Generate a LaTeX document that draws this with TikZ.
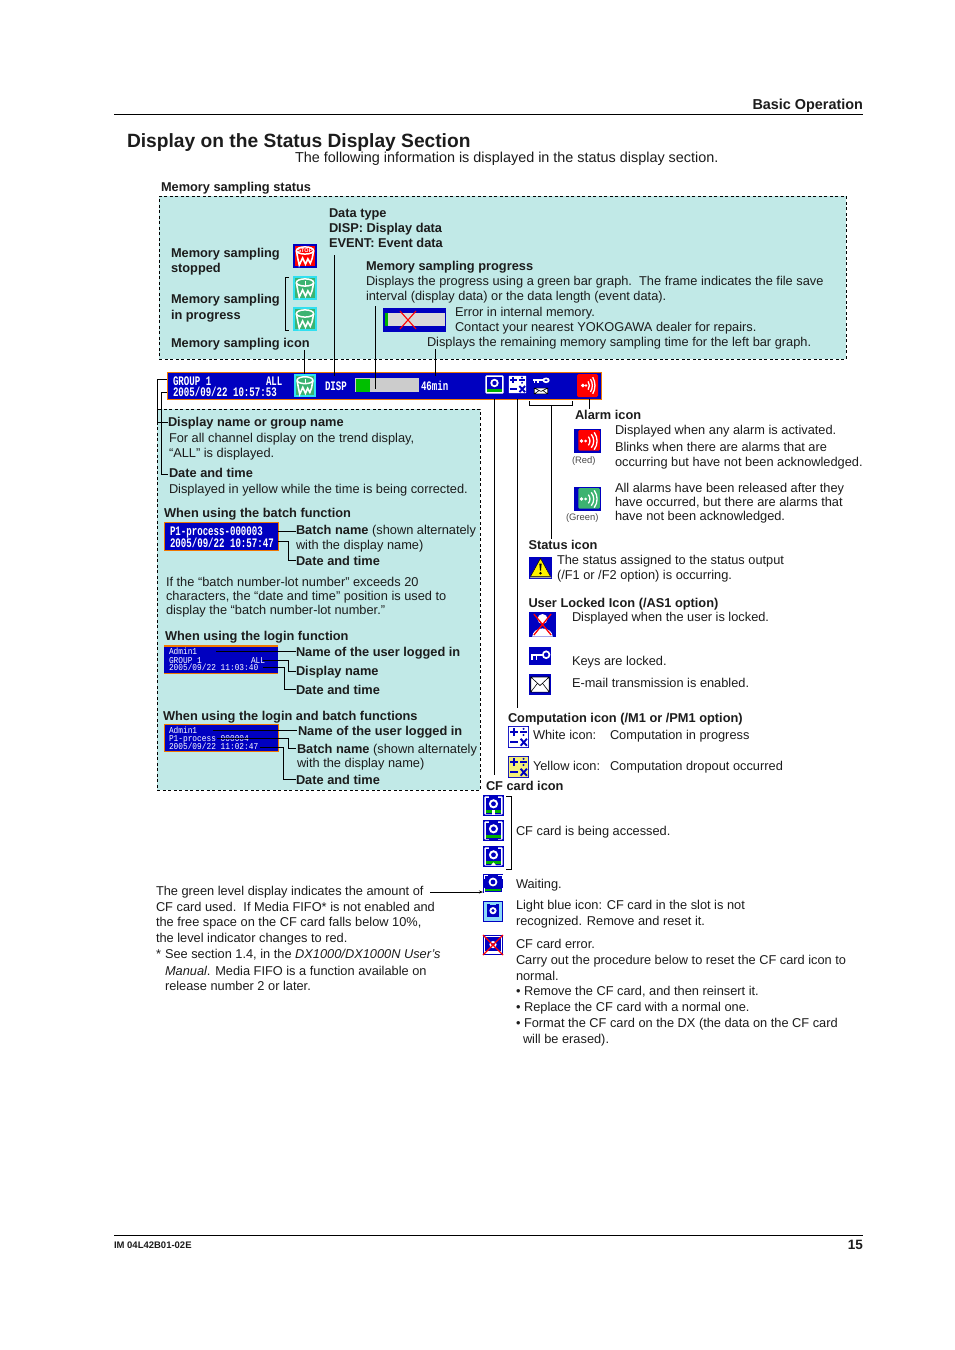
\documentclass[tikz,border=0pt]{standalone}
\usepackage{fontspec}
\setmainfont{Liberation Sans}
\setmonofont{Liberation Mono}
\usetikzlibrary{arrows.meta}
\definecolor{panel}{HTML}{C1E9E7}
\definecolor{lcd}{HTML}{0000C0}
\definecolor{edgeo}{HTML}{F07800}
\definecolor{ink}{HTML}{1C1C1C}
\definecolor{gicon}{HTML}{3CB371}
\definecolor{cyanedge}{HTML}{30E0F0}
\definecolor{yel}{HTML}{F5F078}
\tikzset{
  txt/.style={anchor=base west,inner sep=0pt,outer sep=0pt,text=ink,font=\fontsize{12.8}{15}\selectfont},
  bld/.style={txt,font=\fontsize{12.8}{15}\selectfont\bfseries},
  small/.style={txt,font=\fontsize{9.4}{11}\selectfont,text=ink!80},
  lcdtext/.style={anchor=base west,inner sep=0pt,outer sep=0pt,text=white,font=\fontsize{13}{14}\ttfamily\bfseries\selectfont,xscale=.7,transform shape},
  lcdsmall/.style={anchor=base west,inner sep=0pt,outer sep=0pt,text=white,font=\fontsize{9}{10}\ttfamily\selectfont,xscale=.87,transform shape},
  leader/.style={draw=black,line width=.8pt},
  ibox/.style={anchor=north west,inner sep=0pt,outer sep=0pt,draw=none,fill=lcd},
  panelbox/.style={draw=black,dashed,dash pattern=on 3pt off 2.5pt,line width=.8pt,fill=panel,inner sep=0pt},
  lcdbox/.style={fill=lcd,draw=edgeo,line width=1.4pt}
}
\newcommand\tx[5][txt]{\node[#1] (#2) at (#3,#4) {#5};}
\newcommand\pnt[3]{\coordinate (#1) at (#2,#3);}
\newcommand\ico[6]{\node[ibox,minimum width=#4pt,minimum height=#5pt] (#1) at (#2,#3) {};
  \begin{scope}[shift={(#2,#3)},x=#4pt,y=-#5pt]#6\end{scope}}
\newcommand\dalarmin{
  \fill[white] (.28,.5) circle (1.9pt); \fill[white] (.43,.5) circle (1.4pt);
  \draw[white,line width=1.3pt] (.53,.32) .. controls (.61,.42) and (.61,.58) .. (.53,.68);
  \draw[white,line width=1.3pt] (.64,.22) .. controls (.76,.38) and (.76,.62) .. (.64,.78);
  \draw[white,line width=1.3pt] (.75,.14) .. controls (.89,.36) and (.89,.64) .. (.75,.86);}
\newcommand\dalarm[1]{\fill[#1,rounded corners=1.2pt] (.16,.05) rectangle (.96,.9);
  \begin{scope}[shift={(.12,-.02)},x=.86*1pt*24]\end{scope}\dalarmin}
\newcommand\dcalc[1]{\fill[#1,rounded corners=.6pt] (.04,.04) rectangle (.96,.96);
  \draw[lcd,line width=1.9pt] (.1,.27) -- (.47,.27) (.285,.1) -- (.285,.44);
  \draw[lcd,line width=1.5pt] (.58,.27) -- (.9,.27);
  \fill[lcd] (.74,.13) circle (1.1pt) (.74,.41) circle (1.1pt);
  \draw[lcd,line width=1.9pt] (.1,.74) -- (.47,.74);
  \draw[lcd,line width=1.9pt] (.6,.58) -- (.9,.9) (.9,.58) -- (.6,.9);}
\newcommand\dkey{\draw[white,line width=1.7pt] (.78,.43) circle (.15 and .19);
  \draw[white,line width=2pt] (.08,.43) -- (.62,.43);
  \draw[white,line width=1.5pt] (.14,.43) -- (.14,.74) (.33,.43) -- (.33,.74);}
\newcommand\dmail{\fill[white] (.08,.14) rectangle (.92,.86);
  \draw[black,line width=.6pt] (.08,.14) rectangle (.92,.86) (.08,.14) -- (.5,.55) -- (.92,.14) (.08,.86) -- (.38,.45) (.92,.86) -- (.62,.45);}
\newcommand\dcf[1]{\fill[white,rounded corners=.6pt] (.07,.07) rectangle (.93,.93);
  \fill[lcd] (.28,.0) rectangle (.72,.13);
  \fill[#1] (.14,.72) rectangle (.86,.84);
  \fill[lcd] (.14,.14) rectangle (.86,.72);
  \fill[lcd] (.14,.84) rectangle (.86,.9);
  \fill[white] (.5,.42) circle (4.6pt); \fill[lcd] (.5,.42) circle (2.4pt);}
\newcommand\dcfa[1]{\draw[white,line width=.9pt] (.05,.25) -- (.05,.05) -- (.25,.05) (.75,.05) -- (.95,.05) -- (.95,.25) (.05,.72) -- (.05,.95) -- (.95,.95) -- (.95,.72);
  \fill[#1] (.1,.78) rectangle (.9,.88);
  \fill[white] (.5,.42) circle (4.4pt); \fill[lcd] (.5,.42) circle (2.4pt);}
\newcommand\ddrum[3]{\fill[#1] (0,0) rectangle (1,1);
  \fill[#2] (.07,.07) rectangle (.93,.93);
  \draw[white,line width=1.5pt] (.5,.27) ellipse (.36 and .15);
  \draw[white,line width=1.6pt] (.14,.28) -- (.2,.6) -- (.26,.88) -- (.4,.58) -- (.52,.84) -- (.62,.62) -- (.72,.8) -- (.8,.6) -- (.86,.28);
  #3}
\begin{document}
\begin{tikzpicture}[x=1pt,y=-1pt]
\useasboundingbox (0,0) rectangle (954,1350);
\fill[white] (0,0) rectangle (954,1350);
% header
\node[bld,anchor=base east,font=\fontsize{14.4}{16}\selectfont\bfseries] (hdr) at (863,109) {Basic Operation};
\pnt{hl}{114}{114.5}\pnt{hr}{863}{114.5}
\draw[line width=.7pt] (hl) -- (hr);
\tx[bld,font=\fontsize{19.2}{22}\selectfont\bfseries]{title}{127}{147}{Display on the Status Display Section}
\tx[txt,font=\fontsize{14.4}{16}\selectfont]{intro}{295}{162}{The following information is displayed in the status display section.}
% top panel
\tx[bld]{mss}{161}{191}{Memory sampling status}
\node[panelbox,anchor=north west,minimum width=687pt,minimum height=163pt] (toppanel) at (159,196) {};
\tx[bld]{dt1}{329}{217}{Data type}
\tx[bld]{dt2}{329}{232}{DISP: Display data}
\tx[bld]{dt3}{329}{247}{EVENT: Event data}
\tx[bld]{ms1}{171}{257}{Memory sampling}
\tx[bld]{ms2}{171}{272}{stopped}
\tx[bld]{ms3}{171}{303}{Memory sampling}
\tx[bld]{ms4}{171}{319}{in progress}
\tx[bld]{ms5}{171}{347}{Memory sampling icon}
\tx[bld]{mp1}{366}{270}{Memory sampling progress}
\tx{mp2}{366}{285}{Displays the progress using a green bar graph.\ \ The frame indicates the file save}
\tx{mp3}{366}{300}{interval (display data) or the data length (event data).}
\tx{mp4}{455}{316}{Error in internal memory.}
\tx{mp5}{455}{331}{Contact your nearest YOKOGAWA dealer for repairs.}
\tx{mp6}{427}{346}{Displays the remaining memory sampling time for the left bar graph.}
\ico{icstop}{293}{244}{24}{24}{\ddrum{lcd}{red}{\node[inner sep=0pt,text=white,font=\fontsize{5.5}{5}\bfseries\selectfont] (stoptext) at (.5,.28) {STOP};}}
\ico{icrun1}{293}{276}{24}{24}{\ddrum{cyanedge}{gicon}{\draw[white,line width=.9pt] (.5,.45) -- (.5,.2);}}
\ico{icrun2}{293}{307}{24}{24}{\ddrum{cyanedge}{gicon}{}}
\pnt{br1}{289}{277}\pnt{br2}{285}{277}\pnt{br3}{285}{330}\pnt{br4}{289}{330}
\draw[leader] (br1) -- (br2) -- (br3) -- (br4);
% error bar
\node[ibox,minimum width=63pt,minimum height=24pt] (errbar) at (383,308) {};
\fill[black!15] (385,313) rectangle (445,326);
\fill[green!70!black] (385,313) rectangle (387.5,326);
\pnt{xa}{400}{311}\pnt{xb}{416}{329}\pnt{xc}{416}{311}\pnt{xd}{400}{329}
\draw[red,line width=1.1pt] (xa) -- (xb) (xc) -- (xd);
% status bar
\node[lcdbox,anchor=north west,minimum width=434pt,minimum height=27pt,inner sep=0pt] (bar) at (167,372) {};
\node[lcdtext] (b1) at (173,385) {GROUP 1};
\node[lcdtext] (b2) at (266,385) {ALL};
\node[lcdtext] (b3) at (173,396.5) {2005/09/22 10:57:53};
\ico{bmem}{294}{374}{22}{23}{\ddrum{cyanedge}{gicon}{\draw[white,line width=.9pt] (.5,.45) -- (.5,.2);}}
\node[lcdtext] (b4) at (325,390.5) {DISP};
\node[inner sep=0pt,anchor=north west,fill=black!20,minimum width=64pt,minimum height=14pt] (bbar) at (355,378) {};
\fill[green!75!black] (355.5,379) rectangle (370,391.5);
\node[lcdtext] (b5) at (421,390.5) {46min};
\ico{bcf}{485}{375}{19}{19}{\fill[white,rounded corners=1pt] (.02,.02) rectangle (.98,.98); \fill[green!70!black] (.1,.72) rectangle (.9,.9); \fill[lcd] (.12,.12) rectangle (.88,.72); \fill[white] (.5,.42) circle (4.2pt); \fill[lcd] (.5,.42) circle (2.2pt);}
\ico{bcalc}{508}{375}{19}{19}{\dcalc{white}}
\ico{bkey}{532}{376}{18}{10}{\dkey}
\ico{bmail}{533}{387}{16}{8}{\dmail}
\ico{balarm}{577}{374}{21}{23}{\fill[red,rounded corners=1.5pt] (0,0) rectangle (1,1);\dalarmin}
% leaders from the bar upward
\pnt{u1}{304.5}{350}\draw[leader] (u1) -- (bmem.north -| u1);
\pnt{u2}{334.5}{255}\pnt{u2b}{334.5}{376}\draw[leader] (u2) -- (u2b);
\pnt{u3}{375.5}{306}\pnt{u3b}{375.5}{389}\draw[leader] (u3) -- (u3b);
\pnt{u4}{435.5}{349}\pnt{u4b}{435.5}{376}\draw[leader] (u4) -- (u4b);
% lower left panel
\node[panelbox,anchor=north west,minimum width=323pt,minimum height=381pt] (lowpanel) at (157,409) {};
\tx[bld]{d1}{168}{426}{Display name or group name}
\tx{d2}{169}{442}{For all channel display on the trend display,}
\tx{d3}{169}{457}{“ALL” is displayed.}
\tx[bld]{d4}{169}{477}{Date and time}
\tx{d5}{169}{493}{Displayed in yellow while the time is being corrected.}
\pnt{l1}{167}{379}\pnt{l2}{157.5}{379}\pnt{l3}{157.5}{422}\pnt{l4}{168}{422}
\pnt{m1}{167}{392}\pnt{m2}{161}{392}\pnt{m3}{161}{474}\pnt{m4}{168}{474}
\draw[leader] (l1) -- (l2) -- (l3) -- (l4);
\draw[leader] (m1) -- (m2) -- (m3) -- (m4);
% batch
\tx[bld]{e0}{164}{517}{When using the batch function}
\node[lcdbox,anchor=north west,minimum width=114pt,minimum height=28pt,inner sep=0pt] (bb) at (164,522) {};
\node[lcdtext] (e1) at (170,535) {P1-process-000003};
\node[lcdtext] (e2) at (170,547) {2005/09/22 10:57:47};
\tx{e3}{296}{534}{\textbf{Batch name} (shown alternately}
\tx{e4}{296}{549}{with the display name)}
\tx[bld]{e5}{296}{565}{Date and time}
\pnt{e6}{278}{531}\pnt{e7}{296}{531}\draw[leader] (e6) -- (e7);
\pnt{e8}{278}{541}\pnt{e9}{288.5}{541}\pnt{e10}{288.5}{560}\pnt{e11}{296}{560}\draw[leader] (e8) -- (e9) -- (e10) -- (e11);
\tx{f1}{166}{586}{If the “batch number-lot number” exceeds 20}
\tx{f2}{166}{600}{characters, the “date and time” position is used to}
\tx{f3}{166}{614}{display the “batch number-lot number.”}
% login
\tx[bld]{g0}{165}{640}{When using the login function}
\fill[lcd] (164,645) rectangle (278,673);
\node[draw=none,minimum width=114pt,minimum height=28pt,inner sep=0pt,anchor=north west] (gb) at (164,645) {};
\fill[edgeo] (164,644.5) rectangle (278,646.5);
\fill[edgeo] (164,672.5) rectangle (278,673.5);
\node[lcdsmall] (g1) at (169,654) {Admin1};
\node[lcdsmall] (g2) at (169,663) {GROUP 1};
\node[lcdsmall] (g3) at (251,663) {ALL};
\node[lcdsmall] (g4) at (169,670.5) {2005/09/22 11:03:40};
\tx[bld]{g5}{296}{656}{Name of the user logged in}
\tx[bld]{g6}{296}{675}{Display name}
\tx[bld]{g7}{296}{694}{Date and time}
\pnt{g8}{216}{651}\pnt{g9}{296}{651}\draw[leader] (g8) -- (g9);
\pnt{g10}{263}{660}\pnt{g11}{288.5}{660}\pnt{g12}{288.5}{671}\pnt{g13}{296}{671}\draw[leader] (g10) -- (g11) -- (g12) -- (g13);
\pnt{g14}{263}{667}\pnt{g15}{284.5}{667}\pnt{g16}{284.5}{689}\pnt{g17}{296}{689}\draw[leader] (g14) -- (g15) -- (g16) -- (g17);
% login and batch
\tx[bld]{h0}{163}{720}{When using the login and batch functions}
\node[lcdbox,anchor=north west,minimum width=114pt,minimum height=27pt,inner sep=0pt] (hb) at (164,724) {};
\node[lcdsmall] (h1) at (169,733) {Admin1};
\node[lcdsmall] (h2) at (169,741.5) {P1-process-000004};
\node[lcdsmall] (h3) at (169,749) {2005/09/22 11:02:47};
\tx[bld]{h4}{298}{735}{Name of the user logged in}
\tx{h5}{297}{753}{\textbf{Batch name} (shown alternately}
\tx{h6}{297}{767}{with the display name)}
\tx[bld]{h7}{296}{784}{Date and time}
\pnt{h8}{213}{730}\pnt{h9}{297}{730}\draw[leader] (h8) -- (h9);
\pnt{h10}{217}{738}\pnt{h11}{288.5}{738}\pnt{h12}{288.5}{748}\pnt{h13}{296}{748}\draw[leader] (h10) -- (h11) -- (h12) -- (h13);
\pnt{h14}{260}{747}\pnt{h15}{283.5}{747}\pnt{h16}{283.5}{779}\pnt{h17}{296}{779}\draw[leader] (h14) -- (h15) -- (h16) -- (h17);
% right leaders
\pnt{r1}{494.5}{399}\pnt{r2}{494.5}{775}\draw[leader] (r1) -- (r2);
\pnt{r3}{517.5}{399}\pnt{r4}{517.5}{708}\draw[leader] (r3) -- (r4);
\pnt{r5}{529.5}{401}\pnt{r6}{529.5}{405}\pnt{r7}{572}{405}\pnt{r8}{572}{401}\draw[leader] (r5) -- (r6) -- (r7) -- (r8);
\pnt{r9}{551.5}{405}\pnt{r10}{551.5}{539}\draw[leader] (r9) -- (r10);
\pnt{r11}{589.5}{399}\pnt{r12}{589.5}{409}\draw[leader] (r11) -- (r12);
% alarm section
\tx[bld]{a0}{575}{419}{Alarm icon}
\ico{ared}{574}{429}{27}{24}{\dalarm{red}}
\ico{agreen}{574}{487}{27}{24}{\dalarm{gicon}}
\tx[small]{a1}{572}{463}{(Red)}
\tx[small]{a2}{566}{520}{(Green)}
\tx{a3}{615}{434}{Displayed when any alarm is activated.}
\tx{a4}{615}{451}{Blinks when there are alarms that are}
\tx{a5}{615}{466}{occurring but have not been acknowledged.}
\tx{a6}{615}{492}{All alarms have been released after they}
\tx{a7}{615}{506}{have occurred, but there are alarms that}
\tx{a8}{615}{520}{have not been acknowledged.}
% status
\tx[bld]{s0}{528.5}{549}{Status icon}
\ico{swarn}{529}{557}{23}{22}{\fill[black!35] (.5,.1) -- (.98,.96) -- (.04,.96) -- cycle;\fill[yellow] (.5,.06) -- (.93,.88) -- (.07,.88) -- cycle;\draw[black,line width=.5pt] (.5,.06) -- (.93,.88) -- (.07,.88) -- cycle;\fill[black] (.45,.3) -- (.55,.3) -- (.52,.62) -- (.48,.62) -- cycle;\fill[black] (.5,.74) circle (1.3pt);}
\tx{s1}{557}{564}{The status assigned to the status output}
\tx{s2}{557}{579}{(/F1 or /F2 option) is occurring.}
\tx[bld]{s3}{528.5}{607}{User Locked Icon (/AS1 option)}
\ico{slock}{529}{612}{27}{25}{\fill[white] (.5,.28) circle (5pt);\fill[white] (.12,.98) .. controls (.15,.55) and (.85,.55) .. (.88,.98) -- cycle;\draw[red,line width=1.3pt] (.18,.08) -- (.82,.92) (.82,.08) -- (.18,.92);}
\tx{s4}{572}{621}{Displayed when the user is locked.}
\ico{skey}{529}{647}{22}{18}{\dkey}
\tx{s5}{572}{665}{Keys are locked.}
\ico{smail}{529}{674}{22}{21}{\dmail}
\tx{s6}{572}{687}{E-mail transmission is enabled.}
% computation
\tx[bld]{c0}{508}{722}{Computation icon (/M1 or /PM1 option)}
\ico{cwhite}{508}{726}{21}{22}{\dcalc{white}}
\tx{c1}{533}{739}{White icon:}
\tx{c2}{610}{739}{Computation in progress}
\ico{cyellow}{508}{756}{21}{22}{\dcalc{yel}}
\tx{c3}{533}{770}{Yellow icon:}
\tx{c4}{610}{770}{Computation dropout occurred}
% CF
\tx[bld]{k0}{486}{790}{CF card icon}
\ico{cf1}{483}{795}{21}{21}{\dcf{green!70!black}\fill[white] (.42,.72) rectangle (.58,.93);}
\ico{cf2}{483}{820}{21}{21}{\dcf{green!70!black}\fill[lcd] (.3,.86) rectangle (.7,1);}
\ico{cf3}{483}{846}{21}{21}{\dcf{green!70!black}\fill[white] (.36,.93) -- (.64,.93) -- (.5,.78) -- cycle;}
\pnt{kb1}{506}{796.5}\pnt{kb2}{511}{796.5}\pnt{kb3}{511}{869}\pnt{kb4}{506}{869}
\draw[leader] (kb1) -- (kb2) -- (kb3) -- (kb4);
\tx{k1}{516}{835}{CF card is being accessed.}
\ico{cfw}{483}{874}{20}{19}{\dcfa{green!70!black}}
\tx{k2}{516}{888}{Waiting.}
\ico{cfb}{483}{901}{20}{21}{\fill[cyan!45] (.06,.06) rectangle (.94,.94);\fill[lcd] (.22,.16) rectangle (.78,.76);\fill[cyan!45] (.36,.1) rectangle (.64,.2);\fill[white] (.5,.46) circle (3.6pt);\fill[lcd] (.5,.46) circle (1.7pt);}
\tx{k3}{516}{909}{Light blue icon: CF card in the slot is not}
\tx{k4}{516}{925}{recognized. Remove and reset it.}
\ico{cfe}{483}{935}{20}{20}{\fill[white] (.04,.06) rectangle (.96,.94);\fill[lcd] (.1,.12) rectangle (.9,.82);\fill[white] (.5,.48) circle (3.6pt);\fill[lcd] (.5,.48) circle (1.8pt);\draw[red,line width=1.2pt] (.0,.0) -- (1,1) (1,.0) -- (0,1);}
\tx{k5}{516}{948}{CF card error.}
\tx{k6}{516}{964}{Carry out the procedure below to reset the CF card icon to}
\tx{k7}{516}{980}{normal.}
\tx{k8}{516}{995}{• Remove the CF card, and then reinsert it.}
\tx{k9}{516}{1011}{• Replace the CF card with a normal one.}
\tx{k10}{516}{1027}{• Format the CF card on the DX (the data on the CF card}
\tx{k11}{523}{1043}{will be erased).}
% left note
\tx{n1}{156}{895}{The green level display indicates the amount of}
\tx{n2}{156}{911}{CF card used.\ \ If Media FIFO* is not enabled and}
\tx{n3}{156}{926}{the free space on the CF card falls below 10\%,}
\tx{n4}{156}{942}{the level indicator changes to red.}
\tx{n5a}{156}{958}{*}
\tx{n5}{165}{958}{See section 1.4, in the \textit{DX1000/DX1000N User’s}}
\tx{n6}{165}{975}{\textit{Manual}. Media FIFO is a function available on}
\tx{n7}{165}{990}{release number 2 or later.}
\pnt{ar}{430}{892}
\draw[leader,-{Stealth[length=4pt,width=3pt]}] (ar) -- (ar -| cfw.west);
% footer
\pnt{fl}{114}{1235.5}\pnt{fr}{863}{1235.5}
\draw[line width=.7pt] (fl) -- (fr);
\tx[bld,font=\fontsize{9.5}{10}\selectfont\bfseries]{fa}{114}{1248}{IM 04L42B01-02E}
\node[bld,anchor=base east,font=\fontsize{13.5}{15}\selectfont\bfseries] (fb) at (863,1249) {15};
\end{tikzpicture}
\end{document}
